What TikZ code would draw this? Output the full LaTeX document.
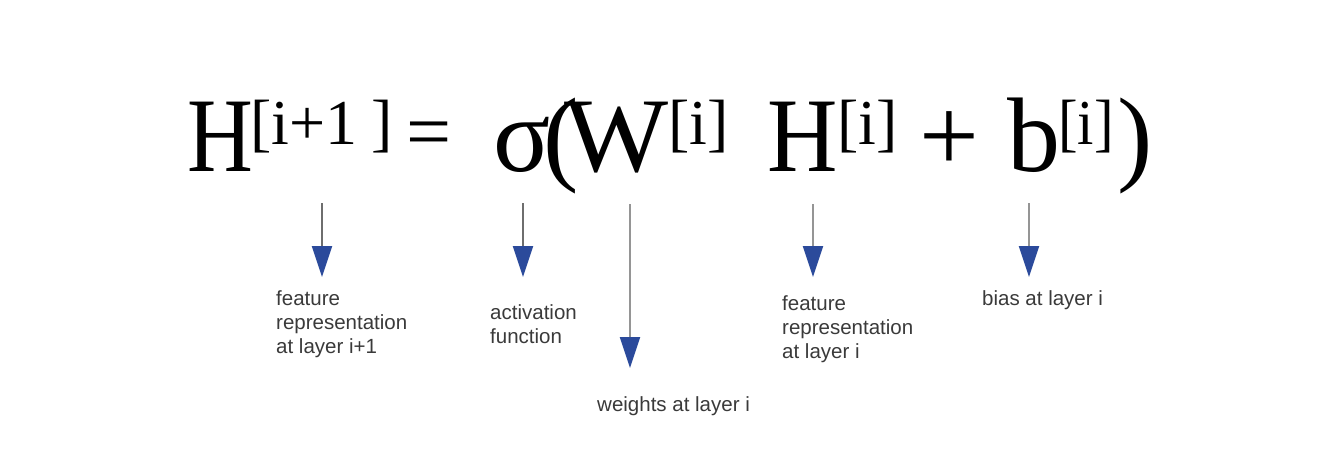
\documentclass[tikz,border=0pt]{standalone}
\usepackage{fontspec}
\usepackage{graphicx}
\setmainfont{Liberation Serif}
\newfontfamily\lblfont{Liberation Sans}
\usetikzlibrary{arrows.meta}
\definecolor{arrowblue}{HTML}{2B4A9B}
\definecolor{stemgray}{HTML}{6E6E6E}
\definecolor{stemlight}{HTML}{959595}
\definecolor{lbltext}{HTML}{3A3A3A}
\tikzset{
  big/.style={anchor=base west, inner sep=0pt, font=\fontsize{106}{106}\selectfont},
  sup/.style={anchor=base west, inner sep=0pt, font=\fontsize{64}{64}\selectfont},
  lbl/.style={anchor=base west, inner sep=0pt, align=left, text=lbltext,
    font=\lblfont\fontsize{20.5}{24}\selectfont},
  pointer/.style={draw=stemgray, line width=2pt,
    -{Triangle[length=31pt,width=20pt,color=arrowblue]}},
}
\begin{document}
\begin{tikzpicture}[x=1pt,y=-1pt]
\useasboundingbox (0,0) rectangle (1332,452);
\fill[white] (0,0) rectangle (1332,452);
% equation
\node[big] (H1) at (187,171) {\scalebox{0.86}[1]{H}};
\node[sup] (s1) at (250,144) {[i+1\kern14pt]};
\node[anchor=base west, inner sep=0pt, font=\fontsize{80}{80}\selectfont] (eq) at (406,158) {=};
\node[big] (sg) at (493,171) {σ};
\node[big] (lp) at (543,171) {(};
\node[big] (W) at (564,171) {\scalebox{1.04}[1]{W}};
\node[sup] (s2) at (668,144) {[i]};
\node[big] (H2) at (767,171) {\scalebox{0.92}[1]{H}};
\node[sup] (s3) at (837,144) {[i]};
\node[big] (pl) at (919,171) {+};
\node[big] (b) at (1007,171) {b};
\node[sup] (s4) at (1058,144) {\scalebox{0.92}[1]{[i]}};
\node[big] (rp) at (1117,171) {)};
% arrow ends
\coordinate (t1) at (322,203); \coordinate (e1) at (322,277);
\coordinate (t2) at (523,203); \coordinate (e2) at (523,277);
\coordinate (t3) at (630,204); \coordinate (e3) at (630,368);
\coordinate (t4) at (813,204); \coordinate (e4) at (813,277);
\coordinate (t5) at (1029,203); \coordinate (e5) at (1029,277);
\draw[pointer] (t1) -- (e1);
\draw[pointer] (t2) -- (e2);
\draw[pointer, draw=stemlight] (t3) -- (e3);
\draw[pointer, draw=stemlight] (t4) -- (e4);
\draw[pointer, draw=stemlight] (t5) -- (e5);
% labels (base = baseline of last line)
\node[lbl] (L1) at (276,353) {feature\\representation\\at layer i+1};
\node[lbl] (L2) at (490,343) {activation\\function};
\node[lbl] (L3) at (597,411) {weights at layer i};
\node[lbl] (L4) at (782,358) {feature\\representation\\at layer i};
\node[lbl] (L5) at (982,305) {bias at layer i};
\end{tikzpicture}
\end{document}
